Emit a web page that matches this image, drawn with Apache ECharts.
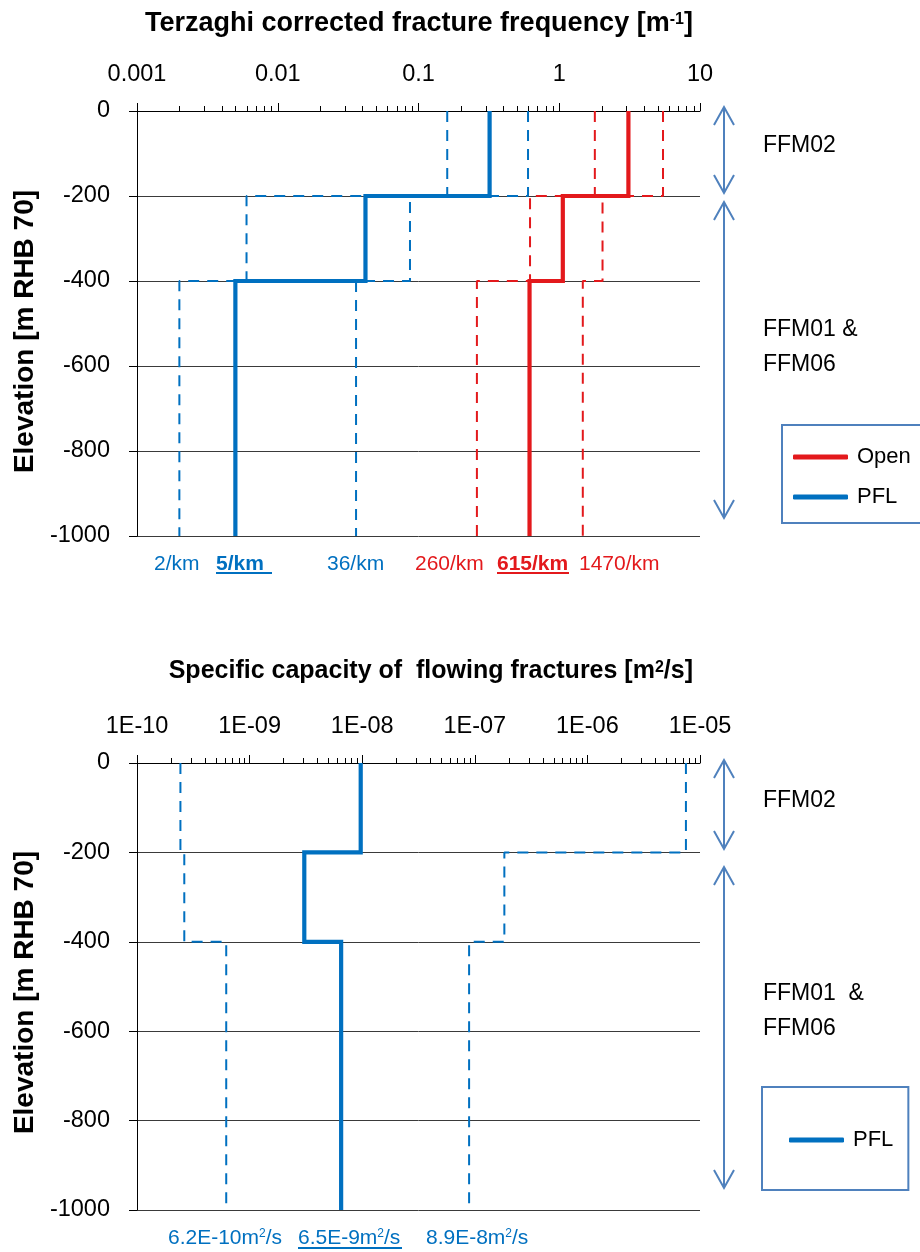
<!DOCTYPE html>
<html><head><meta charset="utf-8">
<script src="https://cdn.jsdelivr.net/npm/echarts@6/dist/echarts.min.js"></script>
<style>html,body{margin:0;padding:0;background:#fff}#c{width:920px;height:1252px}</style>
</head><body><div id="c"></div>
<script>
// ---------------- data ----------------
const depthBounds = [0, -200, -400, -1000];          // section boundaries (m RHB 70)
const freqTickLabels = ['0.001', '0.01', '0.1', '1', '10'];
const capTickLabels = ['1E-10', '1E-09', '1E-08', '1E-07', '1E-06', '1E-05'];

// Terzaghi corrected fracture frequency [1/m], per section (0..-200, -200..-400, -400..-1000)
const pflMid  = [0.32, 0.042, 0.005];
const pflLo   = [0.16, 0.006, 0.002];
const pflHi   = [0.60, 0.087, 0.036];
const openMid = [3.1, 1.06, 0.615];
const openLo  = [1.79, 0.62, 0.26];
const openHi  = [5.46, 2.03, 1.47];

// Specific capacity of flowing fractures [m2/s]
const capMid = [9.7e-9, 3.06e-9, 6.5e-9];
const capLo  = [2.43e-10, 2.63e-10, 6.2e-10];
const capHi  = [7.5e-6, 1.83e-7, 8.9e-8];

const freqNotes = ['2/km', '5/km', '36/km', '260/km', '615/km', '1470/km'];
const capNotes = ['6.2E-10', '6.5E-9', '8.9E-8'];
const zoneNames = ['FFM02', 'FFM01 &', 'FFM06'];
const zoneNames2 = ['FFM02', 'FFM01  &', 'FFM06'];

// ---------------- helpers ----------------
const FONT = "'Liberation Sans', Arial, sans-serif";
const BLUE = '#0070C0', RED = '#E3191C', ARROW = '#4F81BD';

function steps(vals) {
  const pts = [];
  vals.forEach((v, i) => { pts.push([v, depthBounds[i]]); pts.push([v, depthBounds[i + 1]]); });
  return pts;
}
function minorTickValues(e0, e1) {
  const out = [];
  for (let e = e0; e < e1; e++) for (let k = 2; k <= 9; k++) out.push([k * Math.pow(10, e), 0]);
  return out;
}
function lineSeries(name, vals, color, dashed, gi) {
  return {
    type: 'line', name: name, xAxisIndex: gi, yAxisIndex: gi,
    data: steps(vals), showSymbol: false, symbol: 'none', silent: true,
    color: color, itemStyle: { color: color },
    lineStyle: dashed ? { color: color, width: 2, type: [11, 8] } : { color: color, width: 4.2, join: 'miter' },
    z: dashed ? 3 : 4
  };
}
function minorSeries(gi, e0, e1) {
  return {
    type: 'custom', xAxisIndex: gi, yAxisIndex: gi, silent: true, clip: false, z: 6,
    data: minorTickValues(e0, e1),
    renderItem: function (params, api) {
      const p = api.coord([api.value(0), api.value(1)]);
      const x = Math.round(p[0]) + 0.5;
      return { type: 'line', shape: { x1: x, y1: p[1], x2: x, y2: p[1] - 5 }, style: { stroke: '#000', lineWidth: 1 } };
    }
  };
}
function xAxisCfg(gi, min, max, labels, e0) {
  return {
    type: 'log', logBase: 10, gridIndex: gi, min: min, max: max, position: 'top',
    axisLine: { show: true, lineStyle: { color: '#000', width: 1 } },
    axisTick: { show: true, length: 8, lineStyle: { color: '#000' } },
    minorTick: { show: false }, splitLine: { show: false },
    axisLabel: { fontSize: 23.5, color: '#000', fontFamily: FONT, margin: 24,
      formatter: v => labels[Math.round(Math.log10(v)) - e0] }
  };
}
function yAxisCfg(gi, shift) {
  return {
    type: 'value', gridIndex: gi, min: -1000, max: 0, interval: 200,
    axisLine: { show: true, onZero: false, lineStyle: { color: '#000', width: 1 } },
    axisTick: { show: true, length: 8, lineStyle: { color: '#000' } },
    splitLine: { show: true, lineStyle: { color: '#3a3a3a', width: 1 } },
    axisLabel: { fontSize: 23.5, color: '#000', fontFamily: FONT, margin: 27, formatter: v => String(v) },
    name: 'Elevation [m RHB 70]', nameLocation: 'middle', nameGap: 93,
    nameTextStyle: { fontSize: 28, fontWeight: 'bold', color: '#000', fontFamily: FONT, padding: [0, shift, 0, 0] }
  };
}
function arrow(x, y1, y2) {
  return [
    { type: 'polyline', shape: { points: [[x, y1], [x, y2]] }, style: { stroke: ARROW, lineWidth: 2, fill: null } },
    { type: 'polyline', shape: { points: [[x - 10, y1 + 18], [x, y1], [x + 10, y1 + 18]] }, style: { stroke: ARROW, lineWidth: 2, fill: null } },
    { type: 'polyline', shape: { points: [[x - 10, y2 - 18], [x, y2], [x + 10, y2 - 18]] }, style: { stroke: ARROW, lineWidth: 2, fill: null } }
  ];
}
function txt(x, y, text, color, size, weight, rich) {
  return { type: 'text', x: x, y: y, style: { text: text, fill: color, font: (weight || 'normal') + ' ' + size + 'px ' + FONT,
    fontSize: size, fontWeight: weight || 'normal', fontFamily: FONT, verticalAlign: 'middle', align: 'left', rich: rich } };
}
function uline(x1, x2, y, color) {
  return { type: 'line', shape: { x1: x1, y1: y, x2: x2, y2: y }, style: { stroke: color, lineWidth: 2 } };
}

// ---------------- layout-only graphics ----------------
const supRich = { sup: { fontSize: 12, verticalAlign: 'top', fill: BLUE, fontFamily: FONT } };
const graphics = [].concat(
  arrow(724, 107, 193), arrow(724, 202, 518),
  arrow(724, 760, 849), arrow(724, 867, 1188),
  [
    txt(763, 146, zoneNames[0], '#000', 23), txt(763, 330, zoneNames[1], '#000', 23), txt(763, 365, zoneNames[2], '#000', 23),
    txt(763, 801, zoneNames2[0], '#000', 23), txt(763, 994, zoneNames2[1], '#000', 23), txt(763, 1029, zoneNames2[2], '#000', 23),
    txt(154, 564, freqNotes[0], BLUE, 21), txt(216, 564, freqNotes[1], BLUE, 21, 'bold'), uline(216, 272, 573, BLUE),
    txt(327, 564, freqNotes[2], BLUE, 21),
    txt(415, 564, freqNotes[3], RED, 21), txt(497, 564, freqNotes[4], RED, 21, 'bold'), uline(497, 569, 573, RED),
    txt(579, 564, freqNotes[5], RED, 21),
    txt(168, 1238, capNotes[0] + 'm{sup|2}/s', BLUE, 21, 'normal', supRich),
    txt(298, 1238, capNotes[1] + 'm{sup|2}/s', BLUE, 21, 'normal', supRich), uline(298, 402, 1248, BLUE),
    txt(426, 1238, capNotes[2] + 'm{sup|2}/s', BLUE, 21, 'normal', supRich)
  ]
);

const titleSup = { fontSize: 16, fontWeight: 'bold', color: '#000', fontFamily: FONT, padding: [0, 0, 7, 0] };
const chart = echarts.init(document.getElementById('c'), null, { renderer: 'canvas' });
chart.setOption({
  animation: false,
  backgroundColor: '#fff',
  title: [
    { text: 'Terzaghi corrected fracture frequency [m{sup|-1}]', left: 140, top: 5,
      textStyle: { fontSize: 27, fontWeight: 'bold', color: '#000', fontFamily: FONT, rich: { sup: titleSup } } },
    { text: 'Specific capacity of  flowing fractures [m{sup|2}/s]', right: 222, top: 654,
      textStyle: { fontSize: 25, fontWeight: 'bold', color: '#000', fontFamily: FONT, rich: { sup: titleSup } } }
  ],
  grid: [
    { left: 137, top: 111, width: 563, height: 425 },
    { left: 137, top: 763, width: 563, height: 447 }
  ],
  xAxis: [ xAxisCfg(0, 0.001, 10, freqTickLabels, -3), xAxisCfg(1, 1e-10, 1e-5, capTickLabels, -10) ],
  yAxis: [ yAxisCfg(0, 16), yAxisCfg(1, 12) ],
  legend: [
    { left: 782, top: 425, orient: 'vertical', data: ['Open', 'PFL'], icon: 'roundRect', itemWidth: 55, itemHeight: 5,
      itemGap: 18, padding: [21, 40, 15, 11], borderColor: ARROW, borderWidth: 2, backgroundColor: '#fff', borderRadius: 0,
      selectedMode: false, textStyle: { fontSize: 22, color: '#000', fontFamily: FONT, padding: [0, 0, 0, 4] } },
    { left: 762, top: 1087, orient: 'vertical', data: ['PFL'], icon: 'roundRect', itemWidth: 55, itemHeight: 5,
      padding: [42, 15, 39, 27], borderColor: ARROW, borderWidth: 2, backgroundColor: '#fff', borderRadius: 0,
      selectedMode: false, textStyle: { fontSize: 22, color: '#000', fontFamily: FONT, padding: [0, 0, 0, 4] } }
  ],
  series: [
    lineSeries('PFL lower', pflLo, BLUE, true, 0),
    lineSeries('PFL upper', pflHi, BLUE, true, 0),
    lineSeries('Open lower', openLo, RED, true, 0),
    lineSeries('Open upper', openHi, RED, true, 0),
    lineSeries('PFL', pflMid, BLUE, false, 0),
    lineSeries('Open', openMid, RED, false, 0),
    minorSeries(0, -3, 1),
    lineSeries('Cap lower', capLo, BLUE, true, 1),
    lineSeries('Cap upper', capHi, BLUE, true, 1),
    lineSeries('PFL', capMid, BLUE, false, 1),
    minorSeries(1, -10, -5)
  ],
  graphic: { elements: graphics }
});
</script></body></html>
